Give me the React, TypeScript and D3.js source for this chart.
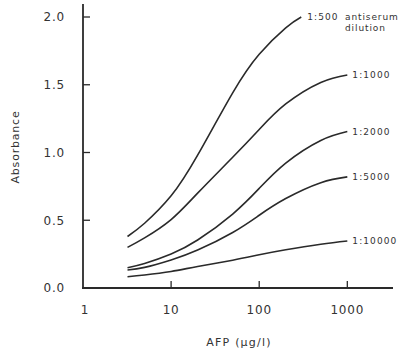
import React from 'react';
import * as d3 from 'd3';

// AFP concentration (µg/l) sampled along each curve
const afp = [3.2, 5, 10, 20, 50, 100, 200, 500, 1000];
const afp500 = [3.2, 5, 10, 20, 50, 100, 200, 300];

// absorbance readings per antiserum dilution
const dil500 = [0.38, 0.478, 0.68, 0.98, 1.44, 1.725, 1.92, 2.0];
const dil1000 = [0.3, 0.37, 0.505, 0.7, 0.965, 1.17, 1.358, 1.517, 1.572];
const dil2000 = [0.15, 0.181, 0.251, 0.354, 0.546, 0.735, 0.922, 1.089, 1.155];
const dil5000 = [0.133, 0.152, 0.207, 0.28, 0.41, 0.537, 0.66, 0.777, 0.82];
const dil10000 = [0.083, 0.096, 0.122, 0.159, 0.205, 0.245, 0.282, 0.323, 0.347];

const seriesNames = ['1:500', '1:1000', '1:2000', '1:5000', '1:10000'];
const yTicks = [0, 0.5, 1.0, 1.5, 2.0];
const xTicks = [1, 10, 100, 1000];

const W = 399;
const H = 356;
const ink = '#2a2a2a';
const font = '"DejaVu Sans", Verdana, sans-serif';

export default function App() {
  // log axis: 1 sits at the corner, axis runs a bit past 1000
  const x = d3.scaleLog().domain([1, 3300]).range([83, 393]);
  const y = d3.scaleLinear().domain([0, 2]).range([288, 17]);

  const series = [
    { name: seriesNames[0], xs: afp500, ys: dil500 },
    { name: seriesNames[1], xs: afp, ys: dil1000 },
    { name: seriesNames[2], xs: afp, ys: dil2000 },
    { name: seriesNames[3], xs: afp, ys: dil5000 },
    { name: seriesNames[4], xs: afp, ys: dil10000 },
  ];

  const line = d3
    .line<[number, number]>()
    .x((d) => x(d[0]))
    .y((d) => y(d[1]))
    .curve(d3.curveNatural);

  return (
    <svg
      width={W}
      height={H}
      style={{ position: 'absolute', left: 0, top: 0, background: '#fff' }}
      fontFamily={font}
    >
      {/* axes */}
      <line x1={83} x2={83} y1={4} y2={288.5} stroke={ink} strokeWidth={1.8} />
      <line x1={82} x2={393} y1={288} y2={288} stroke={ink} strokeWidth={1.8} />

      {yTicks.map((t) => (
        <g key={'y' + t}>
          <line x1={83} x2={90} y1={y(t)} y2={y(t)} stroke={ink} strokeWidth={1.3} />
          <text
            x={65}
            y={y(t)}
            dy="0.36em"
            textAnchor="end"
            fontSize={12}
            letterSpacing={0.8}
            fill="#333"
          >
            {t.toFixed(1)}
          </text>
        </g>
      ))}

      {xTicks.map((t) => (
        <g key={'x' + t}>
          {t > 1 && (
            <line x1={x(t)} x2={x(t)} y1={288} y2={281} stroke={ink} strokeWidth={1.3} />
          )}
          <text
            x={x(t) + (t === 1 ? 2 : 0)}
            y={310}
            dy="0.36em"
            textAnchor="middle"
            fontSize={12}
            letterSpacing={0.8}
            fill="#333"
          >
            {t}
          </text>
        </g>
      ))}

      {/* axis titles */}
      <text
        x={239}
        y={342}
        dy="0.36em"
        textAnchor="middle"
        fontSize={11}
        letterSpacing={1.2}
        fill="#333"
      >
        AFP  (µg/l)
      </text>
      <text
        transform="translate(15,147) rotate(-90)"
        textAnchor="middle"
        dy="0.36em"
        fontSize={11}
        letterSpacing={0.8}
        fill="#333"
      >
        Absorbance
      </text>

      {/* curves */}
      {series.map((s) => {
        const pts = s.xs.map((v, i) => [v, s.ys[i]] as [number, number]);
        const last = pts[pts.length - 1];
        return (
          <g key={s.name}>
            <path d={line(pts) || ''} fill="none" stroke={ink} strokeWidth={1.6} />
            <text
              x={x(last[0]) + (s.name === '1:500' ? 6 : 5)}
              y={y(last[1])}
              dy="0.36em"
              fontSize={9}
              letterSpacing={1.1}
              fill="#333"
            >
              {s.name}
            </text>
          </g>
        );
      })}
      <text x={345} y={y(2.0)} dy="0.36em" fontSize={9} letterSpacing={0.9} fill="#333">
        antiserum
      </text>
      <text x={345} y={28} dy="0.36em" fontSize={9} letterSpacing={0.9} fill="#333">
        dilution
      </text>
    </svg>
  );
}
